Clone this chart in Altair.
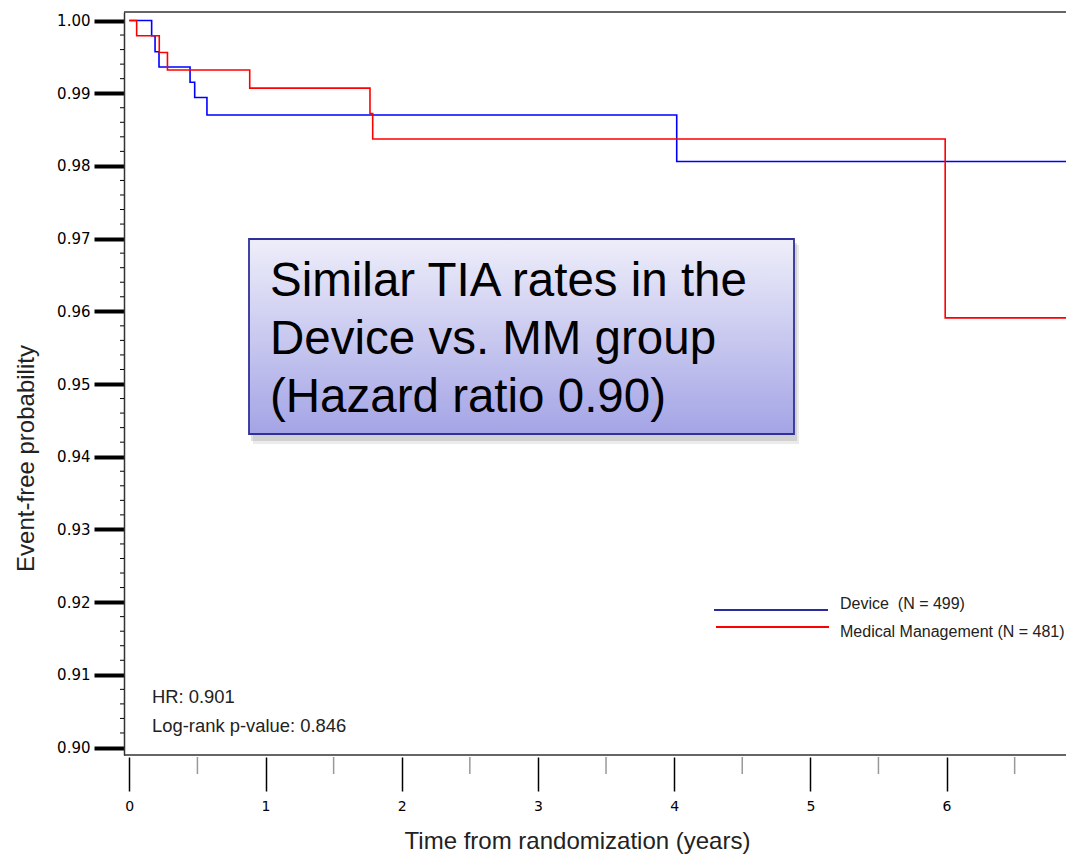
import altair as alt
import pandas as pd

# ---- data ----
device_t = [0.0, 0.164, 0.189, 0.218, 0.446, 0.480, 0.570, 4.019, 6.877]
device_s = [1.0, 0.9979, 0.9957, 0.9936, 0.9915, 0.9894, 0.9870, 0.9806, 0.9806]
mm_t = [0.0, 0.054, 0.220, 0.280, 0.884, 1.767, 1.787, 5.990, 6.877]
mm_s = [1.0, 0.9979, 0.9956, 0.9932, 0.9907, 0.9872, 0.9837, 0.9591, 0.9591]

y_ticks = [0.90, 0.91, 0.92, 0.93, 0.94, 0.95, 0.96, 0.97, 0.98, 0.99, 1.00]
y_minor = [round(0.90 + 0.002 * i, 3) for i in range(51) if i % 5 != 0]
x_ticks = [0, 1, 2, 3, 4, 5, 6]
x_minor = [0.5, 1.5, 2.5, 3.5, 4.5, 5.5, 6.5]

legend_labels = ["Device\u00a0 (N = 499)", "Medical Management (N = 481)"]
stats_lines = ["HR: 0.901", "Log-rank p-value: 0.846"]
box_lines = ["Similar TIA rates in the", "Device vs. MM group", "(Hazard ratio 0.90)"]

W, H = 942, 743
XDOM = [-0.039, 6.877]
YDOM = [0.89897, 1.00117]

xs = alt.Scale(domain=XDOM, nice=False, zero=False)
ys = alt.Scale(domain=YDOM, nice=False, zero=False)

dev = pd.DataFrame({"t": device_t, "s": device_s})
mm = pd.DataFrame({"t": mm_t, "s": mm_s})
one = pd.DataFrame({"k": [0]})

x_axis = alt.Axis(
    values=x_ticks, format="d", tickSize=34, tickWidth=1.5, tickColor="black",
    domain=False, offset=2, labelPadding=8, labelFont="DejaVu Sans",
    labelFontSize=14, labelColor="black", grid=False,
    title="Time from randomization (years)", titleFont="Liberation Sans",
    titleFontSize=24, titleFontWeight="normal", titleColor="#222222",
    titleX=453, titleY=91, titleAlign="center", titleBaseline="alphabetic",
)
y_axis = alt.Axis(
    values=y_ticks, format=".2f", tickSize=30, tickWidth=4, tickColor="black",
    domain=True, domainColor="#333333", domainWidth=1.5, labelPadding=4,
    labelFont="DejaVu Sans", labelFontSize=15, labelColor="black", grid=False,
    title="Event-free probability", titleFont="Liberation Sans",
    titleFontSize=24, titleFontWeight="normal", titleColor="#222222",
    titleAngle=270, titleX=-91, titleY=446, titleAlign="center",
    titleBaseline="alphabetic",
)

blue_line = alt.Chart(dev).mark_line(
    interpolate="step-after", color="#0000ff", strokeWidth=1.6
).encode(
    x=alt.X("t:Q", scale=xs, axis=x_axis),
    y=alt.Y("s:Q", scale=ys, axis=y_axis),
)
red_line = alt.Chart(mm).mark_line(
    interpolate="step-after", color="#ff0000", strokeWidth=1.6
).encode(x=alt.X("t:Q", scale=xs), y=alt.Y("s:Q", scale=ys))

# frame lines (top / bottom)
frame_top = alt.Chart(one).mark_rule(color="#333333", strokeWidth=1.5).encode(
    x=alt.value(0), x2=alt.value(W), y=alt.value(0))
frame_bot = alt.Chart(one).mark_rule(color="#333333", strokeWidth=1.5).encode(
    x=alt.value(0), x2=alt.value(W), y=alt.value(H))

# minor ticks
ymin_df = pd.DataFrame({"v": y_minor})
ymin = alt.Chart(ymin_df).mark_rule(color="black", strokeWidth=1).encode(
    y=alt.Y("v:Q", scale=ys), x=alt.value(-4), x2=alt.value(0))
xmin_df = pd.DataFrame({"v": x_minor})
xmin = alt.Chart(xmin_df).mark_rule(color="#999999", strokeWidth=1.5).encode(
    x=alt.X("v:Q", scale=xs), y=alt.value(H + 2), y2=alt.value(H + 19))

# legend
leg_blue = alt.Chart(one).mark_rule(color="#2b2ba0", strokeWidth=2).encode(
    x=alt.value(590), x2=alt.value(704), y=alt.value(598))
leg_red = alt.Chart(one).mark_rule(color="#ff0000", strokeWidth=2).encode(
    x=alt.value(592), x2=alt.value(705), y=alt.value(615))


def text_lines(lines, x, y0, step, size, color):
    layers = []
    for i, line in enumerate(lines):
        layers.append(
            alt.Chart(one).mark_text(
                align="left", baseline="middle", font="Liberation Sans",
                fontSize=size, color=color,
            ).encode(x=alt.value(x), y=alt.value(y0 + i * step), text=alt.value(line))
        )
    return layers


leg_text = text_lines(legend_labels, 716, 592, 28, 16, "#222222")
stats_text = text_lines(stats_lines, 28, 685, 29, 18.4, "#222222")

# annotation box
shadow1 = alt.Chart(one).mark_rect(color="#777777", opacity=0.22).encode(
    x=alt.value(127), x2=alt.value(673), y=alt.value(231), y2=alt.value(429))
shadow2 = alt.Chart(one).mark_rect(color="#777777", opacity=0.15).encode(
    x=alt.value(129), x2=alt.value(675), y=alt.value(233), y2=alt.value(432))
grad = alt.LinearGradient(
    gradient="linear", x1=0, x2=0, y1=0, y2=1,
    stops=[alt.GradientStop(color="#eeeefa", offset=0),
           alt.GradientStop(color="#a4a4e6", offset=1)],
)
box = alt.Chart(one).mark_rect(fill=grad, stroke="#30309a", strokeWidth=1.8).encode(
    x=alt.value(125), x2=alt.value(670), y=alt.value(227), y2=alt.value(422))
box_text = text_lines(box_lines, 146, 270, 58, 47.5, "black")

chart = alt.layer(
    blue_line, red_line, frame_top, frame_bot, ymin, xmin,
    leg_blue, leg_red, *leg_text, *stats_text,
    shadow2, shadow1, box, *box_text,
).properties(
    width=W, height=H,
    padding={"left": 116, "top": 4, "right": 0, "bottom": 100},
    autosize=alt.AutoSizeParams(type="none"),
    background="white",
).configure_view(strokeWidth=0)

chart.save("out.html", embed_options={"renderer": "svg", "actions": False})
